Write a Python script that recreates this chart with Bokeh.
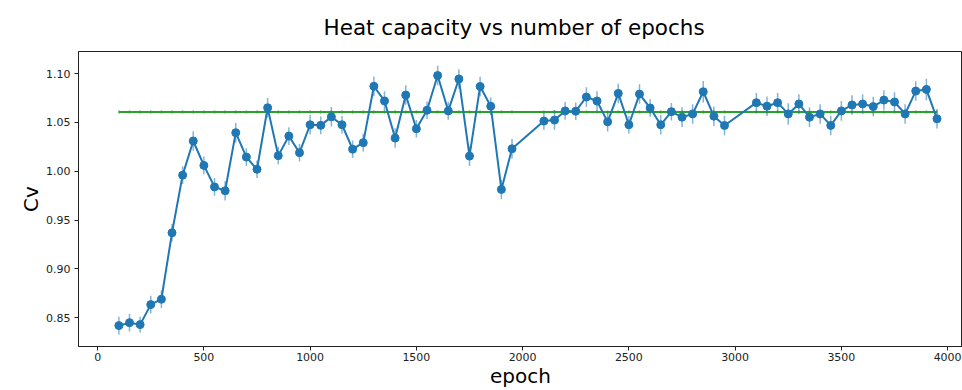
from bokeh.plotting import figure
from bokeh.models import ColumnDataSource, Range1d, FixedTicker, PrintfTickFormatter
from bokeh.embed import file_html
from bokeh.resources import INLINE

epochs = [100, 150, 200, 250, 300, 350, 400, 450, 500, 550, 600, 650, 700, 750,
          800, 850, 900, 950, 1000, 1050, 1100, 1150, 1200, 1250, 1300, 1350,
          1400, 1450, 1500, 1550, 1600, 1650, 1700, 1750, 1800, 1850, 1900, 1950,
          2100, 2150, 2200, 2250, 2300, 2350, 2400, 2450, 2500, 2550, 2600, 2650,
          2700, 2750, 2800, 2850, 2900, 2950,
          3100, 3150, 3200, 3250, 3300, 3350, 3400, 3450, 3500, 3550, 3600, 3650,
          3700, 3750, 3800, 3850, 3900, 3950]
cv = [0.842, 0.845, 0.843, 0.8635, 0.869, 0.937, 0.996, 1.031, 1.006, 0.984,
      0.980, 1.0395, 1.0145, 1.002, 1.065, 1.016, 1.036, 1.019, 1.0476, 1.047,
      1.0557, 1.0476, 1.0226, 1.0293, 1.087, 1.072, 1.034, 1.078, 1.0435, 1.0625,
      1.098, 1.0618, 1.0945, 1.0155, 1.0868, 1.0666, 0.9814, 1.023,
      1.0514, 1.0524, 1.0618, 1.0615, 1.076, 1.0719, 1.0506, 1.0797, 1.0476, 1.079,
      1.0648, 1.0476, 1.061, 1.0554, 1.0587, 1.0814, 1.0564, 1.0469,
      1.0702, 1.0666, 1.0702, 1.0587, 1.0689, 1.0554, 1.0587, 1.0469, 1.0618,
      1.0679, 1.0689, 1.0662, 1.0729, 1.0709, 1.0587, 1.0821, 1.0838, 1.0537]
cv_err = [0.009, 0.009, 0.008, 0.009, 0.009, 0.009, 0.009, 0.010, 0.009, 0.009,
          0.010, 0.010, 0.009, 0.009, 0.010, 0.009, 0.009, 0.009, 0.010, 0.009,
          0.010, 0.009, 0.009, 0.009, 0.010, 0.010, 0.010, 0.010, 0.009, 0.009,
          0.010, 0.009, 0.010, 0.010, 0.010, 0.009, 0.010, 0.010,
          0.009, 0.010, 0.009, 0.009, 0.010, 0.010, 0.010, 0.010, 0.009, 0.010,
          0.009, 0.010, 0.009, 0.010, 0.010, 0.011, 0.010, 0.010,
          0.010, 0.010, 0.010, 0.011, 0.010, 0.010, 0.010, 0.010, 0.010,
          0.010, 0.010, 0.010, 0.010, 0.010, 0.010, 0.010, 0.011, 0.010]
mean_cv = 1.0607
mean_err = 0.0018

blue = "#1f77b4"
green = "#2ca02c"

src = ColumnDataSource(dict(
    x=epochs, y=cv,
    lo=[v - e for v, e in zip(cv, cv_err)],
    hi=[v + e for v, e in zip(cv, cv_err)],
))
gsrc = ColumnDataSource(dict(
    x=epochs, y=[mean_cv] * len(epochs),
    lo=[mean_cv - mean_err] * len(epochs),
    hi=[mean_cv + mean_err] * len(epochs),
))

p = figure(width=962, height=390, output_backend="svg", toolbar_location=None,
           x_range=Range1d(-90, 4070), y_range=Range1d(0.8206, 1.1226),
           min_border_left=78, min_border_right=0, min_border_top=51,
           min_border_bottom=41, background_fill_color="white",
           border_fill_color="white")

p.title.text = "Heat capacity vs number of epochs"
p.title.text_font = "DejaVu Sans"
p.title.text_font_size = "21.5px"
p.title.text_font_style = "normal"
p.title.text_color = "black"
p.title.align = "left"
p.title.offset = 245
p.title.standoff = 24

p.xgrid.visible = False
p.ygrid.visible = False
p.outline_line_color = "#222222"
p.outline_line_width = 1

for ax in (p.xaxis[0], p.yaxis[0]):
    ax.major_tick_out = 4
    ax.major_tick_in = 0
    ax.minor_tick_out = 0
    ax.minor_tick_in = 0
    ax.major_tick_line_color = "#222222"
    ax.axis_line_color = "#222222"
    ax.major_label_text_font = "DejaVu Sans"
    ax.major_label_text_font_size = "11px"
    ax.major_label_text_color = "#222222"
    ax.axis_label_text_font = "DejaVu Sans"
    ax.axis_label_text_font_size = "20px"
    ax.axis_label_text_font_style = "normal"
    ax.axis_label_text_color = "black"

p.xaxis.major_label_standoff = 2
p.yaxis.major_label_standoff = 4
p.xaxis.axis_label = "epoch"
p.xaxis.axis_label_standoff = 0
p.xaxis.ticker = FixedTicker(ticks=[0, 500, 1000, 1500, 2000, 2500, 3000, 3500, 4000])
p.yaxis.axis_label = "Cv"
p.yaxis.axis_label_standoff = 0
p.yaxis.ticker = FixedTicker(ticks=[0.85, 0.90, 0.95, 1.00, 1.05, 1.10])
p.yaxis.formatter = PrintfTickFormatter(format="%.2f")

# green mean line with tiny error ticks
p.segment(x0="x", y0="lo", x1="x", y1="hi", source=gsrc, line_color=green,
          line_alpha=0.6, line_width=1.5)
p.line(x="x", y="y", source=gsrc, line_color=green, line_width=2)

# blue series
p.segment(x0="x", y0="lo", x1="x", y1="hi", source=src, line_color=blue,
          line_alpha=0.55, line_width=1.5)
p.line(x="x", y="y", source=src, line_color=blue, line_width=2)
p.scatter(x="x", y="y", source=src, size=8, fill_color=blue, line_color=blue)

open("out.html", "w").write(file_html(p, INLINE))
